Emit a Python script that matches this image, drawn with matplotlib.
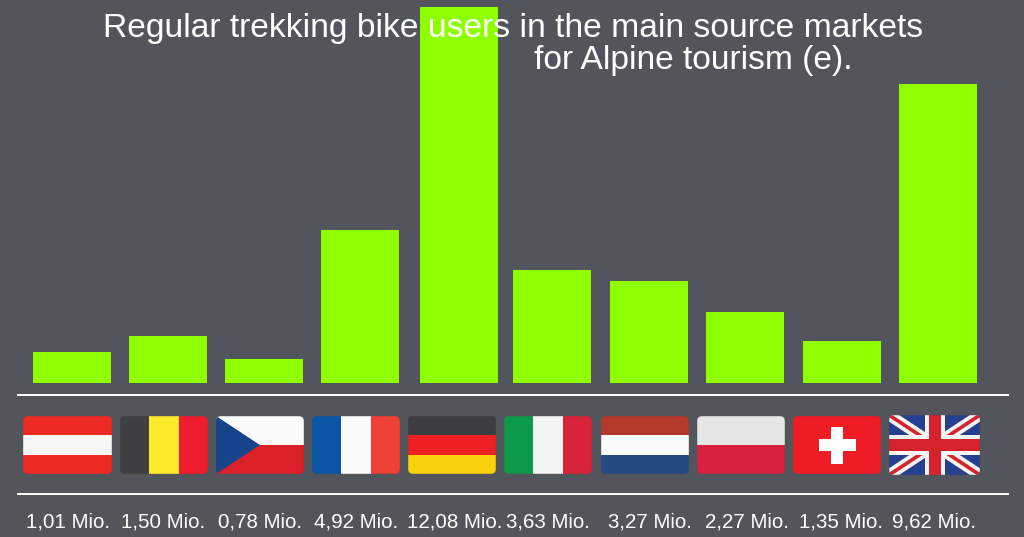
import matplotlib
matplotlib.use('Agg')
import matplotlib.pyplot as plt
from matplotlib.patches import FancyBboxPatch, Rectangle, Polygon

plt.rcParams['font.family'] = ['Liberation Sans', 'DejaVu Sans']

countries = ['AT', 'BE', 'CZ', 'FR', 'DE', 'IT', 'NL', 'PL', 'CH', 'UK']
users = [1.01, 1.50, 0.78, 4.92, 12.08, 3.63, 3.27, 2.27, 1.35, 9.62]
labels = ['1,01 Mio.', '1,50 Mio.', '0,78 Mio.', '4,92 Mio.', '12,08 Mio.',
          '3,63 Mio.', '3,27 Mio.', '2,27 Mio.', '1,35 Mio.', '9,62 Mio.']

# layout, in pixels of the 1024x537 picture
bar_x = [72, 168, 264, 360, 459, 552, 649, 745, 842, 937.5]
bar_w = 78
label_x = [68, 163.5, 260, 356, 454.5, 548, 650, 747, 841, 934]
flag_x = [23, 120, 216, 312, 408, 504, 601, 697, 793, 889]
flag_w = [89, 88, 88, 88, 88, 88, 88, 88, 88, 91]
flag_y, flag_h = 416, 58

bg = '#52565c'
green = '#8fff00'
W, H = 1024, 537

fig = plt.figure(figsize=(W / 100, H / 100), dpi=100, facecolor=bg)

# bars
ax = fig.add_axes([0, (H - 383) / H, 1, 376 / H])
ax.bar(bar_x, users, width=bar_w, color=green)
ax.set_xlim(0, W)
ax.set_ylim(0, 12.08)
ax.axis('off')

# everything else, y going down like the picture
ov = fig.add_axes([0, 0, 1, 1])
ov.set_xlim(0, W)
ov.set_ylim(H, 0)
ov.axis('off')
ov.patch.set_alpha(0)


def stripes(x, w, cols, vertical):
    n = len(cols)
    rects = []
    for i, c in enumerate(cols):
        if vertical:
            rects.append(Rectangle((x + i * w / n, flag_y), w / n, flag_h, color=c, lw=0))
        else:
            rects.append(Rectangle((x, flag_y + i * flag_h / n), w, flag_h / n, color=c, lw=0))
    return rects


def draw_flag(code, x, w):
    y, h = flag_y, flag_h
    p = []
    if code == 'AT':
        p = stripes(x, w, ['#ee2a24', '#f7f7f7', '#ee2a24'], False)
    elif code == 'BE':
        p = stripes(x, w, ['#3f4042', '#fdea2c', '#ee1c2e'], True)
    elif code == 'CZ':
        p = stripes(x, w, ['#fbfbfb', '#db2027'], False)
        p.append(Polygon([(x, y), (x + w / 2, y + h / 2), (x, y + h)], color='#17448a', lw=0))
    elif code == 'FR':
        p = stripes(x, w, ['#0a55a5', '#fbfbfb', '#ee4035'], True)
    elif code == 'DE':
        p = stripes(x, w, ['#3d3d3f', '#ee2024', '#f8d00c'], False)
    elif code == 'IT':
        p = stripes(x, w, ['#0c9a4c', '#f4f4f4', '#d8233a'], True)
    elif code == 'NL':
        p = stripes(x, w, ['#b5392c', '#fbfbfb', '#244a82'], False)
    elif code == 'PL':
        p = stripes(x, w, ['#e6e6e6', '#d5203f'], False)
    elif code == 'CH':
        p = [Rectangle((x, y), w, h, color='#ee1c25', lw=0),
             Rectangle((x + w / 2 - 18.5, y + h / 2 - 6), 37, 12, color='white', lw=0),
             Rectangle((x + w / 2 - 6, y + h / 2 - 18.5), 12, 37, color='white', lw=0)]
    elif code == 'UK':
        y, h = y - 1, h + 2
        p = [Rectangle((x, y), w, h, color='#24408f', lw=0)]
        for a, b, c, d in [(x, y, x + w, y + h), (x, y + h, x + w, y)]:
            p.append(ov.plot([a, c], [b, d], color='#f4f4f4', lw=8, solid_capstyle='butt')[0])
            p.append(ov.plot([a, c], [b, d], color='#d5232b', lw=2.6, solid_capstyle='butt')[0])
        p.append(Rectangle((x + w / 2 - 10, y), 20, h, color='#f4f4f4', lw=0, zorder=3))
        p.append(Rectangle((x, y + h / 2 - 10), w, 20, color='#f4f4f4', lw=0, zorder=3))
        p.append(Rectangle((x + w / 2 - 6, y), 12, h, color='#d5232b', lw=0, zorder=4))
        p.append(Rectangle((x, y + h / 2 - 6), w, 12, color='#d5232b', lw=0, zorder=4))
    clip = FancyBboxPatch((x + 4, y + 4), w - 8, h - 8, boxstyle='round,pad=4,rounding_size=5',
                          fc='none', ec='none', transform=ov.transData)
    ov.add_patch(clip)
    for item in p:
        if not item.axes:
            ov.add_patch(item)
        item.set_clip_path(clip)
    # soft edge of the icon
    ov.add_patch(FancyBboxPatch((x + 4, y + 4), w - 8, h - 8, boxstyle='round,pad=4,rounding_size=5',
                                fc='none', ec=(0.35, 0.3, 0.3, 0.35), lw=0.8, zorder=5))


for code, fx, fw in zip(countries, flag_x, flag_w):
    draw_flag(code, fx, fw)

# rules
for yy in [395, 494]:
    ov.plot([17, 1009], [yy, yy], color='white', lw=1.4, solid_capstyle='butt')

for lx, lab in zip(label_x, labels):
    ov.text(lx, 522, lab, color='white', fontsize=14.8, ha='center', va='center')

ov.text(103, 29, 'Regular trekking bike users in the main source markets',
        color='white', fontsize=24.25, ha='left', va='center')
ov.text(534, 61, 'for Alpine tourism (e).', color='white', fontsize=24.15, ha='left', va='center')

fig.savefig('out.png', dpi=100, facecolor=bg)
